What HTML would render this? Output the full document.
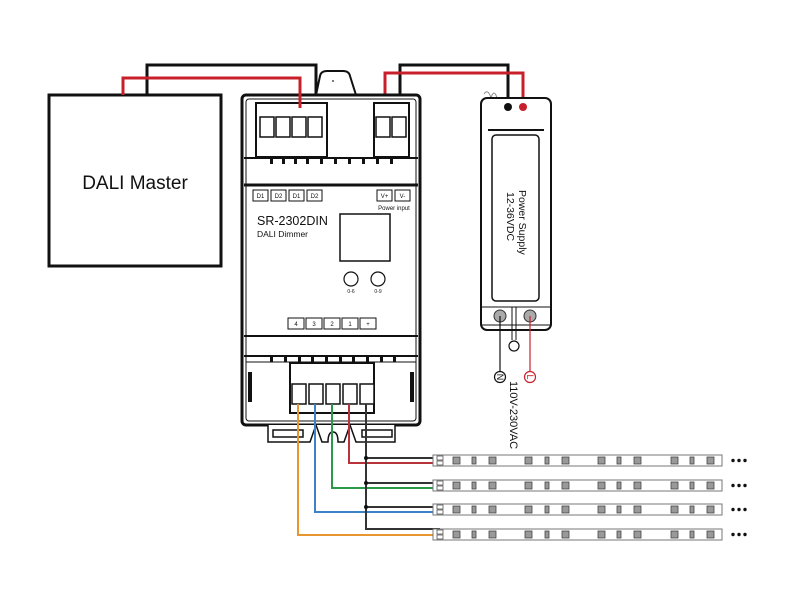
<!DOCTYPE html>
<html><head><style>body{margin:0;background:#fff}svg{display:block}</style></head><body>
<svg width="800" height="600" viewBox="0 0 800 600" xmlns="http://www.w3.org/2000/svg" font-family="Liberation Sans, sans-serif">
<rect x="0" y="0" width="800" height="600" fill="#fff"/>
<!-- DALI master -->
<rect x="49" y="95" width="172" height="171" fill="#fff" stroke="#111" stroke-width="3"/>
<text x="135" y="189" font-size="19" text-anchor="middle" fill="#111">DALI Master</text>
<!-- wires top -->
<polyline points="147,95 147,65 316,65 316,108" fill="none" stroke="#111" stroke-width="3"/>
<polyline points="123,95 123,78 300,78 300,108" fill="none" stroke="#c8202a" stroke-width="3"/>
<polyline points="508,105 508,65 400,65 400,108" fill="none" stroke="#111" stroke-width="3"/>
<polyline points="523,105 523,73 385,73 385,108" fill="none" stroke="#c8202a" stroke-width="3"/>
<!-- top tab -->
<path d="M316,95 L320,76 Q321,71 327,71 L343,71 Q349,71 350,76 L356,95" fill="#fff" stroke="#111" stroke-width="2"/>
<circle cx="333" cy="81" r="1" fill="#555"/>
<!-- module -->
<rect x="242" y="95" width="178" height="330" rx="4" fill="#fff" stroke="#111" stroke-width="3"/>
<rect x="246" y="99" width="170" height="322" rx="3" fill="none" stroke="#111" stroke-width="1"/>
<rect x="256" y="103" width="71" height="54" fill="#fff" stroke="#111" stroke-width="2"/>
<g fill="#fff" stroke="#111" stroke-width="1.5">
<rect x="260" y="117" width="14" height="20"/><rect x="276" y="117" width="14" height="20"/><rect x="292" y="117" width="14" height="20"/><rect x="308" y="117" width="14" height="20"/>
<rect x="376" y="117" width="14" height="20"/><rect x="392" y="117" width="14" height="20"/>
</g>
<rect x="374" y="103" width="35" height="54" fill="none" stroke="#111" stroke-width="2"/>
<polyline points="300,78 300,108" stroke="#c8202a" stroke-width="3"/>
<line x1="244" y1="158" x2="418" y2="158" stroke="#111" stroke-width="2"/>
<line x1="244" y1="185" x2="418" y2="185" stroke="#111" stroke-width="3"/>
<g fill="#111">
<rect x="270" y="158" width="3" height="6"/><rect x="282" y="158" width="3" height="6"/><rect x="294" y="158" width="3" height="6"/><rect x="306" y="158" width="3" height="6"/><rect x="320" y="158" width="3" height="6"/><rect x="334" y="158" width="3" height="6"/><rect x="348" y="158" width="3" height="6"/><rect x="362" y="158" width="3" height="6"/><rect x="376" y="158" width="3" height="6"/><rect x="390" y="158" width="3" height="6"/>
</g>
<g fill="#fff" stroke="#111" stroke-width="1">
<rect x="253" y="190" width="15" height="11"/><rect x="271" y="190" width="15" height="11"/><rect x="289" y="190" width="15" height="11"/><rect x="307" y="190" width="15" height="11"/>
<rect x="377" y="190" width="15" height="11"/><rect x="395" y="190" width="15" height="11"/>
</g>
<g font-size="6" fill="#111" text-anchor="middle">
<text x="260.5" y="198">D1</text><text x="278.5" y="198">D2</text><text x="296.5" y="198">D1</text><text x="314.5" y="198">D2</text>
<text x="384.5" y="198">V+</text><text x="402.5" y="198">V-</text>
<text x="394" y="210" font-size="6">Power input</text>
<text x="351" y="293" font-size="5">0-6</text><text x="378" y="293" font-size="5">0-9</text>
</g>
<text x="257" y="225" font-size="12.5" fill="#111">SR-2302DIN</text>
<text x="257" y="237" font-size="8.5" fill="#111">DALI Dimmer</text>
<rect x="340" y="214" width="50" height="47" fill="#fff" stroke="#111" stroke-width="1.5"/>
<circle cx="351" cy="279" r="7" fill="#fff" stroke="#111" stroke-width="1.2"/>
<circle cx="378" cy="279" r="7" fill="#fff" stroke="#111" stroke-width="1.2"/>
<g fill="#fff" stroke="#111" stroke-width="1">
<rect x="288" y="318" width="16" height="11"/><rect x="306" y="318" width="16" height="11"/><rect x="324" y="318" width="16" height="11"/><rect x="342" y="318" width="16" height="11"/><rect x="360" y="318" width="16" height="11"/>
</g>
<g font-size="6" fill="#111" text-anchor="middle">
<text x="296" y="326">4</text><text x="314" y="326">3</text><text x="332" y="326">2</text><text x="350" y="326">1</text><text x="368" y="326">+</text>
</g>
<line x1="244" y1="336" x2="418" y2="336" stroke="#111" stroke-width="2"/>
<line x1="244" y1="356" x2="418" y2="356" stroke="#111" stroke-width="2"/>
<g fill="#111">
<rect x="270" y="356" width="3" height="6"/><rect x="284" y="356" width="3" height="6"/><rect x="298" y="356" width="3" height="6"/><rect x="311" y="356" width="3" height="6"/><rect x="325" y="356" width="3" height="6"/><rect x="339" y="356" width="3" height="6"/><rect x="352" y="356" width="3" height="6"/><rect x="366" y="356" width="3" height="6"/><rect x="380" y="356" width="3" height="6"/><rect x="393" y="356" width="3" height="6"/>
</g>
<line x1="246" y1="362" x2="416" y2="362" stroke="#111" stroke-width="1"/>
<rect x="290" y="363" width="84" height="50" fill="#fff" stroke="#111" stroke-width="2"/>
<g fill="#fff" stroke="#111" stroke-width="1.5">
<rect x="292" y="384" width="14" height="20"/><rect x="309" y="384" width="14" height="20"/><rect x="326" y="384" width="14" height="20"/><rect x="343" y="384" width="14" height="20"/><rect x="360" y="384" width="14" height="20"/>
</g>
<rect x="248" y="372" width="4" height="30" fill="#111"/><rect x="410" y="372" width="4" height="30" fill="#111"/>
<!-- bottom tabs -->
<path d="M268,425 L268,442 L310,442 L316,425" fill="#fff" stroke="#111" stroke-width="1.5"/>
<path d="M316,425 L322,442 L328,442 Q328,432 333,432 Q338,432 338,442 L344,442 L350,425" fill="#fff" stroke="#111" stroke-width="1.5"/>
<path d="M350,425 L356,442 L395,442 L395,425" fill="#fff" stroke="#111" stroke-width="1.5"/>
<rect x="273" y="430" width="30" height="7" fill="#fff" stroke="#111" stroke-width="1.5"/>
<rect x="362" y="430" width="30" height="7" fill="#fff" stroke="#111" stroke-width="1.5"/>
<!-- output wires -->
<g fill="none" stroke-width="2">
<polyline points="298,404 298,535 440,535" stroke="#e8962e"/>
<polyline points="315,404 315,512 440,512" stroke="#3b82c8"/>
<polyline points="332,404 332,488 440,488" stroke="#2a9a4a"/>
<polyline points="349,404 349,463 440,463" stroke="#b8323a"/>
<polyline points="366,404 366,529 440,529" stroke="#333"/>
<line x1="366" y1="458" x2="440" y2="458" stroke="#333"/>
<line x1="366" y1="483" x2="440" y2="483" stroke="#333"/>
<line x1="366" y1="507" x2="440" y2="507" stroke="#333"/>
</g>
<g fill="#111"><circle cx="366" cy="458" r="2"/><circle cx="366" cy="483" r="2"/><circle cx="366" cy="507" r="2"/></g>
<!-- strips -->
<defs>
<g id="strip">
<rect x="433" y="0" width="289" height="11" fill="#fff" stroke="#777" stroke-width="1"/>
<rect x="437" y="1" width="6" height="4" fill="#fff" stroke="#555" stroke-width="0.8"/>
<rect x="437" y="6" width="6" height="4" fill="#fff" stroke="#555" stroke-width="0.8"/>
<g fill="#999" stroke="#444" stroke-width="0.8">
<rect x="453" y="2" width="7" height="7"/><rect x="472" y="2" width="4" height="7"/><rect x="489" y="2" width="7" height="7"/>
<rect x="525" y="2" width="7" height="7"/><rect x="545" y="2" width="4" height="7"/><rect x="562" y="2" width="7" height="7"/>
<rect x="598" y="2" width="7" height="7"/><rect x="617" y="2" width="4" height="7"/><rect x="634" y="2" width="7" height="7"/>
<rect x="671" y="2" width="7" height="7"/><rect x="690" y="2" width="4" height="7"/><rect x="707" y="2" width="7" height="7"/>
</g>
<circle cx="733" cy="5.5" r="1.7" fill="#111"/><circle cx="739" cy="5.5" r="1.7" fill="#111"/><circle cx="745" cy="5.5" r="1.7" fill="#111"/>
</g>
</defs>
<use href="#strip" y="455"/><use href="#strip" y="480"/><use href="#strip" y="504"/><use href="#strip" y="529"/>
<!-- power supply -->
<path d="M484,94 Q488,88 491,98 Q494,88 497,98" fill="none" stroke="#888" stroke-width="1"/>
<rect x="481" y="98" width="70" height="232" rx="6" fill="#fff" stroke="#111" stroke-width="2"/>
<line x1="488" y1="130" x2="544" y2="130" stroke="#111" stroke-width="2"/>
<rect x="492" y="135" width="47" height="166" rx="4" fill="#fff" stroke="#111" stroke-width="1.5"/>
<text transform="translate(519,190) rotate(90)" font-size="10.5" fill="#111">Power Supply</text>
<text transform="translate(507,192) rotate(90)" font-size="10.5" fill="#111">12-36VDC</text>
<line x1="481" y1="307" x2="551" y2="307" stroke="#111" stroke-width="1"/>
<line x1="481" y1="325" x2="551" y2="325" stroke="#111" stroke-width="1"/>
<line x1="512" y1="307" x2="512" y2="340" stroke="#111" stroke-width="1"/>
<line x1="516" y1="307" x2="516" y2="340" stroke="#111" stroke-width="1"/>
<circle cx="500" cy="316" r="6" fill="#aaa" stroke="#333" stroke-width="1"/>
<circle cx="530" cy="316" r="6" fill="#aaa" stroke="#333" stroke-width="1"/>
<circle cx="514" cy="346" r="5" fill="#fff" stroke="#111" stroke-width="1.2"/>
<line x1="500" y1="316" x2="500" y2="371" stroke="#111" stroke-width="1.2"/>
<line x1="530" y1="316" x2="530" y2="371" stroke="#c8202a" stroke-width="1.2"/>
<circle cx="500" cy="377" r="5.5" fill="#fff" stroke="#111" stroke-width="1.2"/>
<circle cx="530" cy="377" r="5.5" fill="#fff" stroke="#c8202a" stroke-width="1.2"/>
<text transform="translate(497,377) rotate(90)" font-size="9" fill="#111" text-anchor="middle">N</text>
<text transform="translate(527,377) rotate(90)" font-size="9" fill="#c8202a" text-anchor="middle">L</text>
<text transform="translate(510,381) rotate(90)" font-size="11" fill="#111">110V-230VAC</text>
<circle cx="508" cy="107" r="4" fill="#111"/>
<circle cx="523" cy="107" r="4" fill="#c8202a"/>
</svg>
</body></html>
